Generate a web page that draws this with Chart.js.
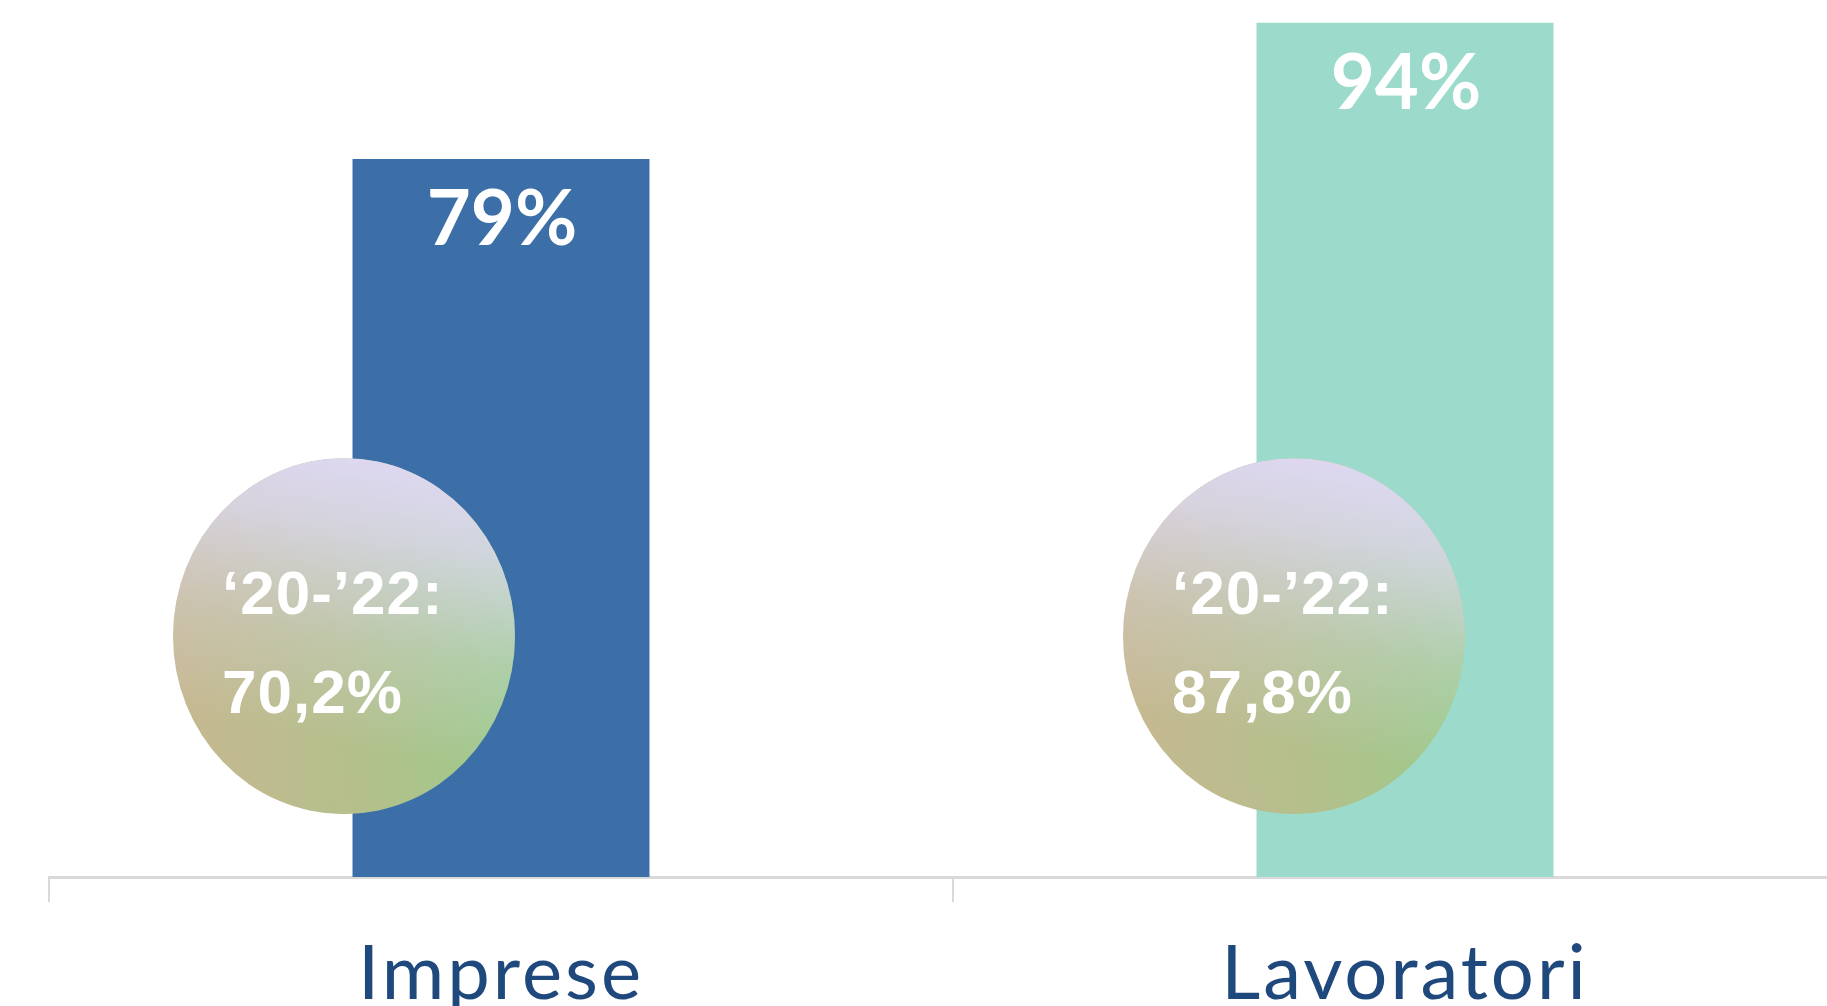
<!DOCTYPE html>
<html><head><meta charset="utf-8">
<script src="https://cdn.jsdelivr.net/npm/chart.js@4.4.1/dist/chart.umd.min.js"></script>
<style>
html,body{margin:0;padding:0;background:#fff;overflow:hidden}
#wrap{width:1827px;height:1006px;overflow:hidden;position:relative;background:#fff}
canvas{display:block}
</style>
</head><body>
<div id="wrap"><canvas id="c" width="1857" height="1046"></canvas></div>
<script>
// ---- data ----
const categories = ['Imprese', 'Lavoratori'];
const shareValues = [79, 94];
const shareLabels = ['79%', '94%'];
const periodLabel = '\u201820-\u201922:';
const periodValues = ['70,2%', '87,8%'];
const barColors = ['#3c6ea7', '#9cdbcb'];

// ---- styling / positioning (not data) ----
const bubbleDx = [-157, -111];   // bubble centre offset from bar centre, px
const bubbleLevel = 26.5;         // bubble centre on y scale
const bubbleRx = 171, bubbleRy = 178;

const spacing = {
  id: 'spacing',
  beforeDraw(chart) { chart.ctx.letterSpacing = '3px'; }
};

const overlay = {
  id: 'overlay',
  afterDatasetsDraw(chart) {
    const ctx = chart.ctx;
    const meta = chart.getDatasetMeta(0);
    const ys = chart.scales.y;
    meta.data.forEach((bar, i) => {
      ctx.save();
      ctx.letterSpacing = '0px';
      ctx.fillStyle = '#ffffff';
      ctx.font = 'bold 76px Lato';
      ctx.textAlign = 'center';
      ctx.textBaseline = 'alphabetic';
      ctx.fillText(shareLabels[i], bar.x + 1, bar.y + 86);
      ctx.restore();

      const cx = bar.x + bubbleDx[i];
      const cy = ys.getPixelForValue(bubbleLevel);
      const rx = bubbleRx, ry = bubbleRy;
      ctx.save();
      ctx.beginPath();
      ctx.ellipse(cx, cy, rx, ry, 0, 0, Math.PI * 2);
      ctx.clip();
      const g = ctx.createLinearGradient(cx - rx, cy + ry * 0.2, cx + rx, cy - ry * 0.1);
      g.addColorStop(0, '#c6b890');
      g.addColorStop(0.5, '#b3c08c');
      g.addColorStop(1, '#98cc8a');
      ctx.fillStyle = g;
      ctx.fillRect(cx - rx, cy - ry, rx * 2, ry * 2);
      const g2 = ctx.createLinearGradient(cx + rx * 0.25, cy - ry, cx - rx * 0.15, cy + ry);
      g2.addColorStop(0, 'rgba(222,216,242,1)');
      g2.addColorStop(0.2, 'rgba(222,216,242,0.8)');
      g2.addColorStop(0.5, 'rgba(222,216,242,0.3)');
      g2.addColorStop(0.8, 'rgba(222,216,242,0.0)');
      ctx.fillStyle = g2;
      ctx.fillRect(cx - rx, cy - ry, rx * 2, ry * 2);
      ctx.restore();

      ctx.save();
      ctx.letterSpacing = '1px';
      ctx.fillStyle = '#ffffff';
      ctx.font = 'bold 62px "Liberation Sans"';
      ctx.textAlign = 'left';
      ctx.textBaseline = 'alphabetic';
      const tx = cx - rx + 49;
      ctx.fillText(periodLabel, tx, cy - 22);
      ctx.fillText(periodValues[i], tx, cy + 77);
      ctx.restore();
    });
  }
};

new Chart(document.getElementById('c'), {
  type: 'bar',
  data: {
    labels: categories,
    datasets: [{
      data: shareValues,
      backgroundColor: barColors,
      borderWidth: 0,
      barPercentage: 1,
      categoryPercentage: 0.3285
    }]
  },
  options: {
    responsive: false,
    animation: false,
    devicePixelRatio: 1,
    layout: { padding: { left: 49, right: 0, top: 0, bottom: 0 } },
    plugins: { legend: { display: false }, tooltip: { enabled: false } },
    scales: {
      x: {
        offset: true,
        grid: { display: true, offset: true, drawOnChartArea: false, drawTicks: true, tickLength: 25, color: '#d9d9d9', lineWidth: 2 },
        border: { display: true, color: '#d9d9d9', width: 3 },
        ticks: { color: '#1f497d', padding: 34, font: { family: 'Lato', size: 76, lineHeight: 1 } }
      },
      y: { display: false, min: 0, max: 96.5 }
    }
  },
  plugins: [spacing, overlay]
});
</script>
</body></html>
